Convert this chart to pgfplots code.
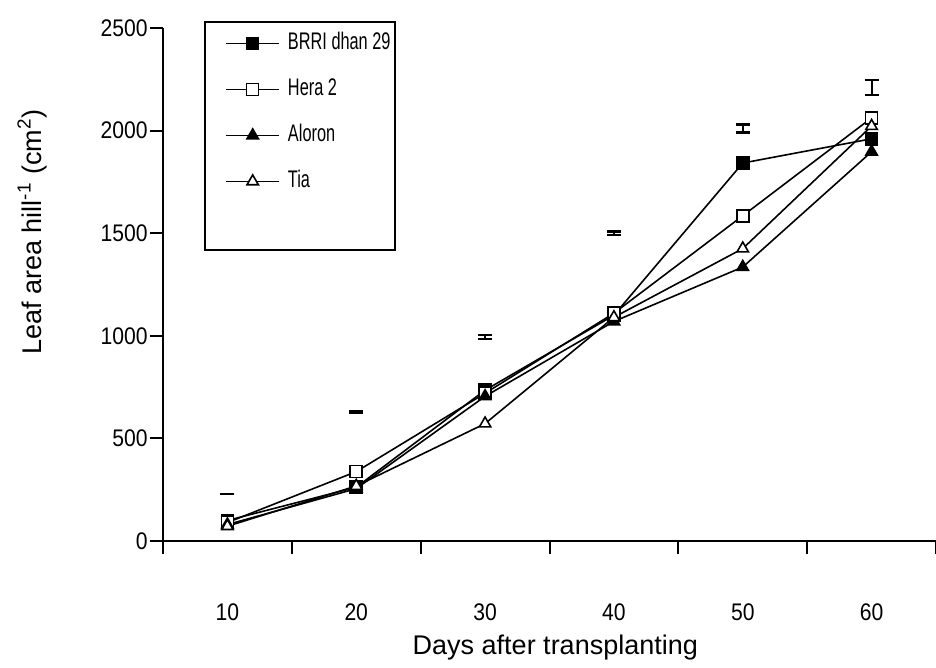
\documentclass[border=0pt]{standalone}
\usepackage{fontspec}
\setmainfont{Liberation Sans}
\newfontfamily\tickfont{Liberation Sans}[FakeStretch=0.88]
\newfontfamily\legfont{Liberation Sans}[FakeStretch=0.68]
\usepackage{pgfplots}
\pgfplotsset{compat=1.18}
\begin{document}
\begin{tikzpicture}
\useasboundingbox (-81.5pt,-63.5pt) rectangle (386.5pt,270.5pt);
\begin{axis}[
  at={(0pt,0pt)}, anchor=south west,
  width=386.5pt, height=256.5pt, scale only axis,
  xmin=5, xmax=65, ymin=0, ymax=2500,
  clip=false,
  axis x line*=bottom, axis y line*=left,
  axis line style={-, line width=1.1pt},
  xtick={10,20,...,60},
  ytick={0,500,...,2500},
  minor xtick={5,15,...,65},
  minor ytick={0,500,...,2500},
  major tick length=0pt,
  minor tick length=6.5pt,
  tick align=outside,
  tick style={line width=1pt, black},
  /pgf/number format/assume math mode=true,
  /pgf/number format/1000 sep={},
  xticklabel style={anchor=center, inner sep=0pt, yshift=-35.5pt, font={\fontsize{12}{14}\selectfont\tickfont}},
  yticklabel style={anchor=east, inner sep=0pt, xshift=-7.5pt, font={\fontsize{12}{14}\selectfont\tickfont}},
  xlabel={Days after transplanting},
  ylabel={Leaf area hill\textsuperscript{-1} (cm\textsuperscript{2})},
  xlabel style={at={(axis description cs:0.5075,-0.2086)}, anchor=center, inner sep=0pt, font=\fontsize{13.5}{15}\selectfont},
  ylabel style={at={(axis description cs:-0.1695,0.602)}, anchor=center, inner sep=0pt, font=\fontsize{13.5}{15}\selectfont},
  legend cell align=left,
  legend style={draw=none, fill=none, at={(axis description cs:0.0802,0.994)}, anchor=north west,
    inner sep=0pt, row sep=11pt,
    nodes={inner sep=0pt, text height=9pt, text depth=3pt, font={\fontsize{12}{14}\selectfont\legfont}},
    /tikz/every odd column/.append style={column sep=4pt}},
  every axis plot/.append style={black, line width=0.8pt, mark options={solid, line width=0.7pt}},
  legend image code/.code={\draw[mark repeat=2,mark phase=2] plot coordinates {(0pt,0pt) (13.25pt,0pt) (26.5pt,0pt)};},
]
\addplot[mark=square*, mark size=3pt, mark options={fill=black}] coordinates {
  (10,100) (20,262) (30,735) (40,1100) (50,1842) (60,1960)};
\addlegendentry{BRRI dhan 29}
\addplot[mark=square*, mark size=3pt, mark options={fill=white}] coordinates {
  (10,90) (20,338) (30,720) (40,1110) (50,1585) (60,2062)};
\addlegendentry{Hera 2}
\addplot[mark=triangle*, mark size=3.3pt, mark options={fill=black}] coordinates {
  (10,80) (20,255) (30,705) (40,1070) (50,1335) (60,1897)};
\addlegendentry{Aloron}
\addplot[mark=triangle*, mark size=3.3pt, mark options={fill=white}] coordinates {
  (10,72) (20,268) (30,572) (40,1090) (50,1425) (60,2022)};
\addlegendentry{Tia}
\addplot[draw=none, mark=none, forget plot,
  error bars/.cd, y dir=both, y explicit, error mark=|,
  error bar style={draw=black, line width=1pt},
  error mark options={draw=black, line width=1.2pt, mark size=3.5pt}]
  table[x=x, y=y, y error=e] {
  x y e
  10 229 1
  20 630 3
  30 995 10
  40 1500 9
  50 2010 20
  60 2210 37
};
\draw[line width=1.1pt] (axis description cs:0.0543,1.0117) rectangle (axis description cs:0.300,0.567);
\end{axis}
\end{tikzpicture}
\end{document}
